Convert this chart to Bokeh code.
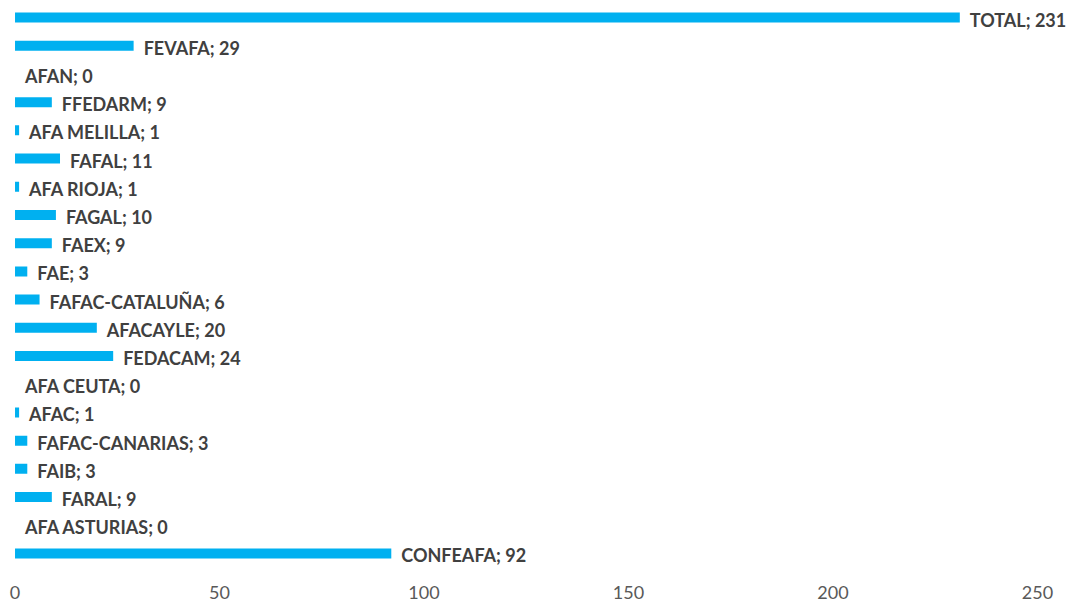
from bokeh.plotting import figure
from bokeh.models import ColumnDataSource, Range1d, FixedTicker
from bokeh.core.properties import value
from bokeh.embed import file_html
from bokeh.resources import INLINE

# Data (bottom to top)
categories = ["CONFEAFA", "AFA ASTURIAS", "FARAL", "FAIB", "FAFAC-CANARIAS", "AFAC",
              "AFA CEUTA", "FEDACAM", "AFACAYLE", "FAFAC-CATALUÑA", "FAE", "FAEX",
              "FAGAL", "AFA RIOJA", "FAFAL", "AFA MELILLA", "FFEDARM", "AFAN",
              "FEVAFA", "TOTAL"]
values = [92, 0, 9, 3, 3, 1, 0, 24, 20, 6, 3, 9, 10, 1, 11, 1, 9, 0, 29, 231]
x_ticks = [0, 50, 100, 150, 200, 250]

positions = list(range(len(categories)))
labels = [f"{c}; {v}" for c, v in zip(categories, values)]
src = ColumnDataSource(dict(y=positions, v=values, label=labels))

p = figure(width=1073, height=603, output_backend="svg", toolbar_location=None,
           x_range=Range1d(-3.55, 258.8), y_range=Range1d(-0.78, 19.603),
           min_border_left=0, min_border_right=0, min_border_top=0, min_border_bottom=28)
p.outline_line_color = None
p.background_fill_color = "white"
p.border_fill_color = "white"
p.grid.visible = False

p.hbar(y="y", right="v", left=0, height=0.355, source=src,
       fill_color="#00B0F0", line_color=None)

p.text(x="v", y="y", text="label", source=src, x_offset=10, y_offset=2,
       text_baseline="middle", text_align="left",
       text_font=value("Lato"), text_font_style="bold", text_font_size="18px",
       text_color="#404040")

p.yaxis.visible = False
xa = p.xaxis[0]
xa.ticker = FixedTicker(ticks=x_ticks)
xa.axis_line_color = None
xa.major_tick_line_color = None
xa.minor_tick_line_color = None
xa.major_label_standoff = 4
xa.major_label_text_font = "Lato"
xa.major_label_text_font_size = "18px"
xa.major_label_text_color = "#595959"

open("out.html", "w").write(file_html(p, INLINE))
